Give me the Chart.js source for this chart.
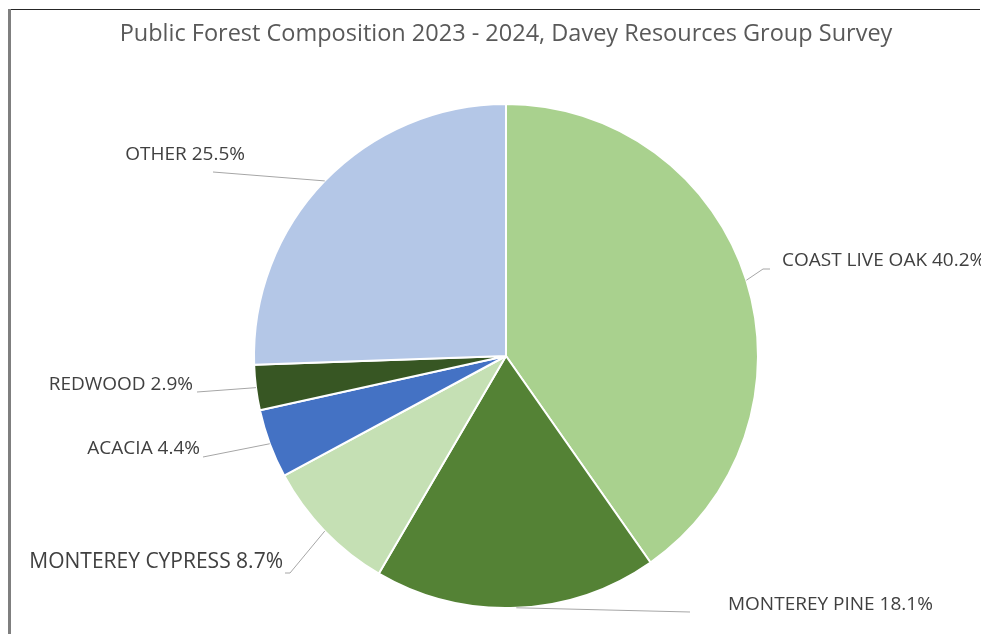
<!DOCTYPE html>
<html>
<head>
<meta charset="utf-8">
<title>Public Forest Composition</title>
<script src="https://cdn.jsdelivr.net/npm/chart.js@4/dist/chart.umd.min.js"></script>
<style>
  html, body { margin: 0; padding: 0; background: #fff; overflow: hidden; }
  #wrap { position: relative; width: 981px; height: 634px; }
  #frameTop { position: absolute; left: 8px; top: 9px; width: 972px; height: 1px; background: #262626; }
  #frameLeft { position: absolute; left: 8px; top: 9px; width: 3px; height: 625px; background: #7f7f7f; }
</style>
</head>
<body>
<div id="wrap">
  <canvas id="myChart" width="981" height="634"></canvas>
  <div id="frameTop"></div>
  <div id="frameLeft"></div>
</div>
<script>
// Especies y porcentajes del inventario
const species = ['COAST LIVE OAK', 'MONTEREY PINE', 'MONTEREY CYPRESS', 'ACACIA', 'REDWOOD', 'OTHER'];
const shares = [40.2, 18.1, 8.7, 4.4, 2.9, 25.5];
const sliceColors = ['#a9d18e', '#548235', '#c5e0b4', '#4472c4', '#375623', '#b4c7e7'];

// Posición de cada etiqueta: puntos de la línea guía y del texto
const labelLayout = [
  { path: [[763, 269], [770, 269]], text: [782, 261], align: 'left', size: 19 },
  { path: [[690, 612]], text: [728, 605], align: 'left', size: 19 },
  { path: [[290, 573], [285, 573]], text: [283, 562], align: 'right', size: 21 },
  { path: [[203, 457]], text: [200, 449], align: 'right', size: 19 },
  { path: [[197, 392]], text: [193, 385], align: 'right', size: 19 },
  { path: [[213, 172]], text: [245, 155], align: 'right', size: 19 }
];

// Plugin para dibujar etiquetas con línea guía
const leaderLabels = {
  id: 'leaderLabels',
  afterDatasetsDraw(chart) {
    const ctx = chart.ctx;
    const meta = chart.getDatasetMeta(0);
    ctx.save();
    meta.data.forEach((arc, i) => {
      const p = arc.getProps(['x', 'y', 'startAngle', 'endAngle', 'outerRadius'], true);
      const mid = (p.startAngle + p.endAngle) / 2;
      const ex = p.x + Math.cos(mid) * p.outerRadius;
      const ey = p.y + Math.sin(mid) * p.outerRadius;
      const lay = labelLayout[i];

      ctx.beginPath();
      ctx.moveTo(ex, ey);
      lay.path.forEach(pt => ctx.lineTo(pt[0], pt[1]));
      ctx.strokeStyle = '#a6a6a6';
      ctx.lineWidth = 1;
      ctx.stroke();

      ctx.font = `${lay.size}px "Open Sans"`;
      ctx.fillStyle = '#404040';
      ctx.textAlign = lay.align;
      ctx.textBaseline = 'middle';
      ctx.fillText(`${species[i]} ${shares[i]}%`, lay.text[0], lay.text[1]);
    });
    ctx.restore();
  }
};

const ctx = document.getElementById('myChart').getContext('2d');
new Chart(ctx, {
  type: 'pie',
  data: {
    labels: species,
    datasets: [{
      data: shares,
      backgroundColor: sliceColors,
      borderColor: '#ffffff',
      borderWidth: 2
    }]
  },
  options: {
    responsive: false,
    animation: false,
    devicePixelRatio: 1,
    layout: { padding: { top: 12, bottom: 25, left: 31, right: 0 } },
    plugins: {
      legend: { display: false },
      tooltip: { enabled: false },
      title: {
        display: true,
        text: 'Public Forest Composition 2023 - 2024, Davey Resources Group Survey',
        color: '#595959',
        font: { family: '"Open Sans"', size: 23.5, weight: 'normal', lineHeight: 1.2 },
        padding: { top: 8, bottom: 54.8 }
      }
    }
  },
  plugins: [leaderLabels]
});
</script>
</body>
</html>
